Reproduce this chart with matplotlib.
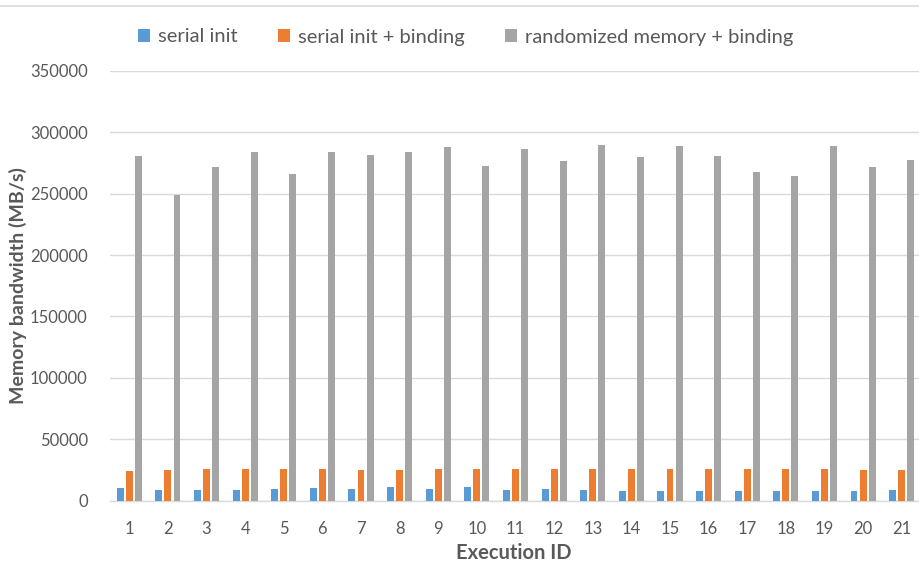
import matplotlib
matplotlib.use("Agg")
import matplotlib.pyplot as plt
import numpy as np
from matplotlib.lines import Line2D

plt.rcParams['font.family'] = ['Lato', 'DejaVu Sans']

exec_ids = [str(i) for i in range(1, 22)]
serial_init = [10300, 9000, 9000, 9000, 9800, 10300, 9500, 10900, 9800, 10900, 8400,
               9800, 9000, 8100, 7600, 8100, 7600, 7600, 7600, 8100, 8400]
serial_binding = [24100, 25200, 25700, 25700, 25700, 25700, 25200, 25200, 25700, 25700, 25700,
                  25700, 25700, 25700, 25700, 25700, 25700, 25700, 25700, 25200, 25200]
random_binding = [280600, 248900, 271700, 283600, 266000, 284100, 281700, 284100, 287700, 272200, 286300,
                  276300, 289600, 279600, 289000, 280600, 267800, 264300, 289000, 271400, 277100]

series = [
    ("serial init", serial_init, "#5B9BD5"),
    ("serial init + binding", serial_binding, "#ED7D31"),
    ("randomized memory + binding", random_binding, "#A5A5A5"),
]

txt = "#595959"
grid = "#D9D9D9"

fig = plt.figure(figsize=(9.19, 5.63), dpi=100)
ax = fig.add_axes([110 / 919, 62.4 / 563, 811 / 919, 429.8 / 563])

x = np.arange(len(exec_ids))
w = 0.18
step = 0.235
for k, (name, vals, col) in enumerate(series):
    ax.bar(x + (k - 1) * step, vals, width=w, color=col, label=name, zorder=3)

ax.set_xlim(-0.5, len(exec_ids) - 0.5)
ax.set_ylim(0, 350000)
ax.set_yticks(np.arange(0, 350001, 50000))
ax.set_xticks(x)
ax.set_xticklabels(exec_ids)
ax.tick_params(axis='both', length=0, colors=txt, labelsize=12)
ax.tick_params(axis='y', pad=16)
ax.tick_params(axis='x', pad=15)
ax.grid(axis='y', color=grid, linewidth=1, zorder=0)
for s in ['top', 'right', 'left']:
    ax.spines[s].set_visible(False)
ax.spines['bottom'].set_color(grid)
ax.spines['bottom'].set_linewidth(1)

ax.set_ylabel("Memory bandwidth (MB/s)", fontsize=14, fontweight='bold', color=txt, labelpad=2)
fig.text(514 / 919, 1 - 553 / 563, "Execution ID", fontsize=14.5, fontweight='bold',
         color=txt, ha='center', va='center')

fig.legend(loc='center', bbox_to_anchor=(0.507, 1 - 37 / 563), ncol=3, frameon=False,
           fontsize=14.5, handlelength=0.6, handleheight=0.6, handletextpad=0.4,
           columnspacing=2.0, labelcolor=txt)

# thin border line along the top of the chart
fig.add_artist(Line2D([0, 1], [1 - 6 / 563, 1 - 6 / 563], color=grid, linewidth=1.2,
                      transform=fig.transFigure))

fig.savefig("out.png", dpi=100)
